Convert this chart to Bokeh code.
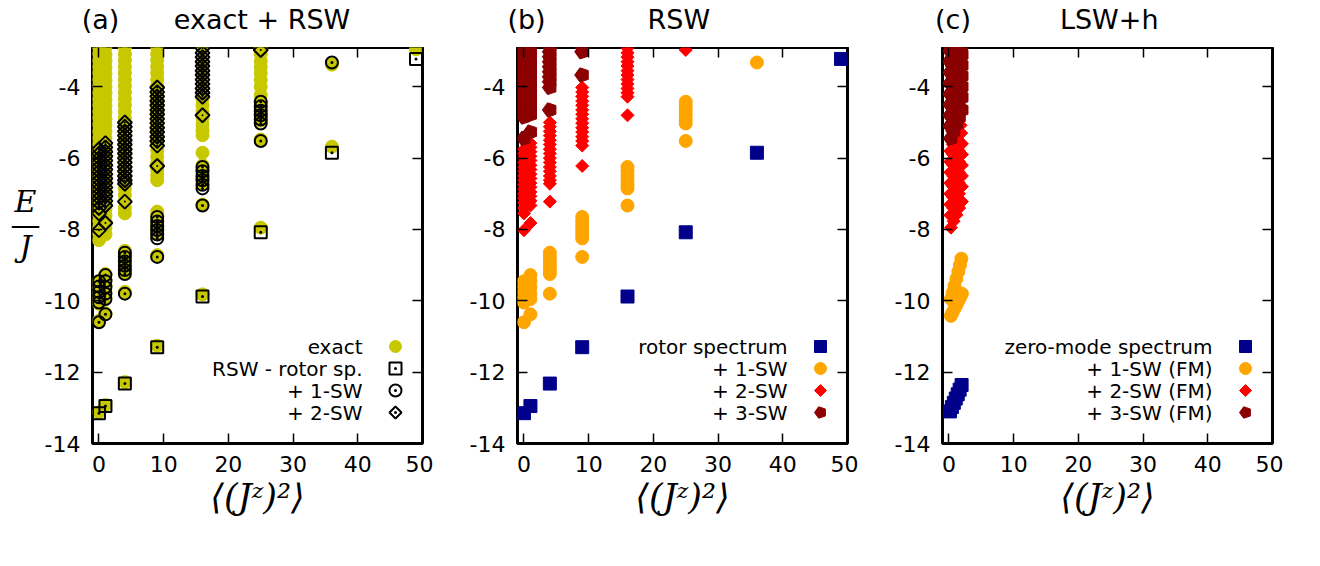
import math
from bokeh.plotting import figure
from bokeh.models import (Range1d, FixedTicker, LinearAxis, Label, Legend, LegendItem,
                          CustomJSTickFormatter)
from bokeh.layouts import row, column
from bokeh.embed import file_html
from bokeh.resources import INLINE

# ---------------- data ----------------
x_ticks = [0, 10, 20, 30, 40, 50]
y_ticks = [-14, -12, -10, -8, -6, -4]

panel_tags = ["(a)", "(b)", "(c)"]
panel_titles = ["exact + RSW", "RSW", "LSW+h"]
x_label_text = "⟨(Jᶻ)²⟩"

legend_a = ["exact", "RSW - rotor sp.", "+ 1-SW", "+ 2-SW"]
legend_b = ["rotor spectrum", "+ 1-SW", "+ 2-SW", "+ 3-SW"]
legend_c = ["zero-mode spectrum", "+ 1-SW (FM)", "+ 2-SW (FM)", "+ 3-SW (FM)"]

# rotor spectrum (RSW)
rotor_x = [0, 1, 4, 9, 16, 25, 36, 49]
rotor_y = [-13.15, -12.95, -12.32, -11.30, -9.88, -8.08, -5.85, -3.22]

# exact diagonalisation levels, grouped by <(Jz)^2>
exact_col_x = [0, 1, 4, 9, 16, 25, 36, 49]
exact_col_y = [
    [-2.90, -3.08, -3.27, -3.45, -3.62, -3.80, -3.98, -4.17, -4.35, -4.52, -4.70, -4.88, -5.06,
     -5.25, -5.43, -5.60, -5.78, -5.96, -6.14, -6.32, -6.50, -6.68, -6.86, -7.04, -7.22, -7.40,
     -7.58, -7.76, -7.94, -8.12, -8.30, -9.45, -9.62, -9.78, -9.95, -10.08, -10.56, -13.13],
    [-2.90, -3.10, -3.28, -3.46, -3.64, -3.82, -4.00, -4.18, -4.36, -4.54, -4.72, -4.90, -5.08,
     -5.26, -5.44, -5.62, -5.80, -5.98, -6.16, -6.34, -6.52, -6.70, -6.88, -7.06, -7.24, -7.42,
     -7.60, -7.78, -7.96, -8.14, -9.25, -9.42, -9.58, -9.75, -9.92, -10.35, -12.92],
    [-2.90, -3.08, -3.26, -3.44, -3.62, -3.80, -3.98, -4.16, -4.34, -4.52, -4.70, -4.88, -5.06,
     -5.24, -5.42, -5.60, -5.78, -5.96, -6.14, -6.32, -6.50, -6.68, -6.86, -7.04, -7.22, -7.40,
     -7.55, -8.60, -8.72, -8.85, -8.97, -9.10, -9.20, -9.75, -12.28],
    [-2.90, -3.08, -3.26, -3.44, -3.62, -3.80, -3.98, -4.16, -4.34, -4.52, -4.70, -4.88, -5.06,
     -5.24, -5.42, -5.60, -5.78, -5.96, -6.14, -6.32, -6.48, -6.62, -7.50, -7.62, -7.75, -7.88,
     -8.00, -8.12, -8.72, -11.26],
    [-2.90, -3.08, -3.26, -3.44, -3.62, -3.80, -3.98, -4.16, -4.34, -4.52, -4.70, -4.88, -5.06,
     -5.22, -5.36, -5.85, -6.20, -6.32, -6.45, -6.57, -6.70, -7.30, -9.82],
    [-2.92, -3.08, -3.28, -3.45, -3.62, -3.81, -4.00, -4.23, -4.45, -4.58, -4.70, -4.82, -4.95,
     -5.48, -7.95],
    [-3.38, -5.68],
    [-2.95],
]

# RSW rotor + 1 spin wave
sw1_col_x = [0, 1, 4, 9, 16, 25, 36]
sw1_col_y = [
    [-9.45, -9.60, -9.75, -9.90, -10.05, -10.60],
    [-9.28, -9.45, -9.62, -9.80, -9.95, -10.38],
    [-8.65, -8.77, -8.90, -9.02, -9.14, -9.25, -9.80],
    [-7.65, -7.78, -7.90, -8.02, -8.14, -8.25, -8.77],
    [-6.25, -6.37, -6.50, -6.62, -6.75, -6.85, -7.33],
    [-4.42, -4.55, -4.67, -4.80, -4.92, -5.03, -5.52],
    [-3.32],
]

# RSW rotor + 2 spin waves
sw2_col_x = [0, 1, 4, 9, 16, 25]
sw2_col_y = [
    [-5.75, -5.88, -6.00, -6.12, -6.25, -6.37, -6.50, -6.62, -6.75, -6.87, -7.00, -7.12, -7.25,
     -7.40, -7.55, -8.02],
    [-5.58, -5.70, -5.82, -5.95, -6.07, -6.20, -6.32, -6.45, -6.57, -6.70, -6.82, -6.95, -7.07,
     -7.20, -7.33, -7.82],
    [-5.00, -5.12, -5.25, -5.37, -5.50, -5.62, -5.75, -5.87, -6.00, -6.12, -6.25, -6.37, -6.50,
     -6.62, -6.72, -7.22],
    [-4.02, -4.15, -4.27, -4.40, -4.52, -4.65, -4.77, -4.90, -5.02, -5.15, -5.27, -5.40, -5.52,
     -5.65, -6.22],
    [-2.92, -3.05, -3.17, -3.30, -3.42, -3.55, -3.67, -3.80, -3.92, -4.05, -4.17, -4.28, -4.80],
    [-2.97],
]

# RSW rotor + 3 spin waves
sw3_col_x = [0, 1, 4, 9]
sw3_col_y = [
    [-2.88, -3.02, -3.16, -3.30, -3.44, -3.58, -3.72, -3.86, -4.00, -4.14, -4.28, -4.42, -4.56,
     -4.70, -4.85, -5.45],
    [-2.88, -3.02, -3.16, -3.30, -3.44, -3.58, -3.72, -3.86, -4.00, -4.14, -4.28, -4.42, -4.56,
     -4.70, -4.78, -5.27],
    [-2.88, -3.02, -3.16, -3.30, -3.44, -3.58, -3.72, -3.86, -4.02, -4.65],
    [-2.88, -3.02, -3.67],
]

# LSW+h : zero-mode spectrum and FM spin-wave bands
zm_x = [0.15, 0.45, 0.75, 1.05, 1.35, 1.65, 1.95]
zm_y = [-13.10, -12.98, -12.86, -12.74, -12.62, -12.49, -12.36]

fm1_x = [0.30, 0.55, 0.85, 1.15, 1.45, 1.75, 2.00,
         0.30, 0.55, 0.85, 1.15, 1.45, 1.70, 1.92]
fm1_y = [-10.42, -10.33, -10.22, -10.12, -10.01, -9.90, -9.80,
         -9.95, -9.78, -9.58, -9.38, -9.18, -9.00, -8.82]

fm2_x = [0.30, 0.72, 1.15, 1.58, 2.00,
         0.20, 0.65, 1.10, 1.55, 2.00,
         0.20, 0.65, 1.10, 1.55, 2.00,
         0.20, 0.65, 1.10, 1.55, 2.00,
         0.20, 0.65, 1.10, 1.55, 2.00,
         0.20, 0.65, 1.10, 1.55, 2.00,
         0.20, 0.62, 1.05, 1.48, 1.90,
         0.20, 0.60, 1.00, 1.40, 1.80]
fm2_y = [-7.95, -7.77, -7.59, -7.40, -7.22,
         -7.60, -7.40, -7.20, -7.00, -6.80,
         -7.30, -7.10, -6.90, -6.70, -6.50,
         -7.00, -6.80, -6.60, -6.40, -6.20,
         -6.70, -6.50, -6.30, -6.10, -5.90,
         -6.40, -6.20, -6.00, -5.80, -5.60,
         -6.10, -5.90, -5.70, -5.50, -5.30,
         -5.80, -5.62, -5.44, -5.26, -5.08]

fm3_x = [0.30, 0.72, 1.15, 1.58, 2.00,
         0.20, 0.65, 1.10, 1.55, 2.00,
         0.20, 0.65, 1.10, 1.55, 2.00,
         0.20, 0.65, 1.10, 1.55, 2.00,
         0.20, 0.65, 1.10, 1.55, 2.00,
         0.20, 0.65, 1.10, 1.55, 2.00,
         0.20, 0.62, 1.05, 1.48, 1.90,
         0.20, 0.45, 0.70, 0.95, 1.20,
         0.20, 0.40]
fm3_y = [-5.45, -5.25, -5.05, -4.85, -4.65,
         -5.10, -4.90, -4.70, -4.50, -4.30,
         -4.80, -4.60, -4.40, -4.20, -4.00,
         -4.50, -4.30, -4.10, -3.90, -3.70,
         -4.20, -4.00, -3.80, -3.60, -3.40,
         -3.90, -3.70, -3.50, -3.30, -3.10,
         -3.60, -3.42, -3.24, -3.06, -2.90,
         -3.30, -3.20, -3.10, -3.00, -2.88,
         -3.00, -2.90]

# colours
c_exact = "#c8c800"
c_navy = "#00008b"
c_orange = "#ffa500"
c_red = "#ff0000"
c_dred = "#8b0000"


def flatten(cols_x, cols_y):
    xs, ys = [], []
    for x, yl in zip(cols_x, cols_y):
        xs += [x] * len(yl)
        ys += list(yl)
    return xs, ys


exact_x, exact_y = flatten(exact_col_x, exact_col_y)
sw1_x, sw1_y = flatten(sw1_col_x, sw1_col_y)
sw2_x, sw2_y = flatten(sw2_col_x, sw2_col_y)
sw3_x, sw3_y = flatten(sw3_col_x, sw3_col_y)

# ---------------- layout constants ----------------
FONT = "DejaVu Sans"
XMIN, XMAX, YMIN, YMAX = -1, 50, -14, -2.9
FW, FH = 330, 396
TOP_H = 47          # title strip height
LEFT_W = 40         # strip holding the E/J label
BT, BB, BR = 0, 110, 11
PANEL_H = BT + FH + BB
TOTAL_W = LEFT_W + (52 + FW + BR) + 2 * (84 + FW + BR)


def style_axis(ax, labels=True):
    ax.major_tick_in = 10
    ax.major_tick_out = 0
    ax.minor_tick_in = 0
    ax.minor_tick_out = 0
    ax.major_tick_line_width = 1.5
    ax.major_tick_line_color = "black"
    ax.axis_line_color = None
    if labels:
        ax.formatter = CustomJSTickFormatter(code="return tick.toFixed(0)")
        ax.major_label_text_font = FONT
        ax.major_label_text_font_size = "22px"
        ax.major_label_text_color = "black"
        ax.major_label_standoff = 12
    else:
        ax.formatter = CustomJSTickFormatter(code="return ''")
        ax.major_label_text_font_size = "1px"
        ax.major_label_standoff = 0


def blank_strip(w, h):
    s = figure(frame_width=w, frame_height=h, x_range=Range1d(0, w), y_range=Range1d(0, h),
               output_backend="svg", toolbar_location=None,
               min_border_left=0, min_border_right=0, min_border_top=0, min_border_bottom=0,
               background_fill_color="white", border_fill_color="white")
    s.axis.visible = False
    s.grid.visible = False
    s.outline_line_color = None
    return s


def make_panel(left_border):
    p = figure(frame_width=FW, frame_height=FH,
               x_range=Range1d(XMIN, XMAX), y_range=Range1d(YMIN, YMAX),
               output_backend="svg", toolbar_location=None,
               min_border_left=left_border, min_border_right=BR, min_border_top=BT,
               min_border_bottom=BB, background_fill_color="white", border_fill_color="white")
    p.grid.visible = False
    p.outline_line_color = "black"
    p.outline_line_width = 3
    p.outline_line_alpha = 1.0
    p.xaxis.ticker = FixedTicker(ticks=x_ticks)
    p.yaxis.ticker = FixedTicker(ticks=y_ticks)
    style_axis(p.xaxis[0])
    style_axis(p.yaxis[0])
    p.xaxis.axis_label = x_label_text
    p.xaxis.axis_label_text_font = "DejaVu Serif"
    p.xaxis.axis_label_text_font_style = "italic"
    p.xaxis.axis_label_text_font_size = "35px"
    p.xaxis.axis_label_text_color = "black"
    p.xaxis.axis_label_standoff = 2
    top = LinearAxis(ticker=FixedTicker(ticks=x_ticks))
    style_axis(top, labels=False)
    p.add_layout(top, "above")
    right = LinearAxis(ticker=FixedTicker(ticks=y_ticks))
    style_axis(right, labels=False)
    p.add_layout(right, "right")
    return p


def add_legend(p, labels, rends):
    # key symbols (Bokeh legends, one per row) sitting right of right-aligned texts
    row_bottoms = [81.6, 60.0, 37.6, 16.0]        # px above frame bottom
    row_y = [-11.29, -11.90, -12.53, -13.14]      # text rows in data units
    for lab, r, yb, ty in zip(labels, rends, row_bottoms, row_y):
        rl = r if isinstance(r, list) else [r]
        lg = Legend(items=[LegendItem(label=" ", renderers=rl)], location=(288, yb),
                    orientation="vertical", padding=0, margin=0, glyph_width=30, glyph_height=30,
                    label_standoff=0, label_width=1, label_height=1,
                    label_text_font_size="1px", background_fill_alpha=0, border_line_alpha=0)
        p.add_layout(lg)
        p.add_layout(Label(x=40.73, y=ty, text=lab, text_font=FONT, text_font_size="20px",
                           text_align="right", text_baseline="middle", text_color="black"))


def pentagons(p, x, y, color):
    try:
        return p.ngon(x=x, y=y, radius=7.5, radius_units="screen", n=5, angle=math.pi / 2,
                      fill_color=color, line_color=color)
    except Exception:
        return p.scatter(x=x, y=y, marker="hex", size=13, fill_color=color, line_color=color)


def diamonds(p, x, y, fill, line, lw, radius):
    try:
        return p.ngon(x=x, y=y, radius=radius, radius_units="screen", n=4, angle=0,
                      fill_color=fill, line_color=line, line_width=lw)
    except Exception:
        return p.scatter(x=x, y=y, marker="diamond", size=2 * radius, fill_color=fill,
                         line_color=line, line_width=lw)


# ---------------- panel (a) ----------------
pa = make_panel(52)
r_ex = pa.scatter(exact_x, exact_y, marker="circle", size=13, fill_color=c_exact, line_color=c_exact)
r_ro = pa.scatter(rotor_x, rotor_y, marker="square_dot", size=12, fill_color=None,
                  line_color="black", line_width=2)
r_s1 = pa.scatter(sw1_x, sw1_y, marker="circle_dot", size=12, fill_color=None,
                  line_color="black", line_width=2)
r_s2 = diamonds(pa, sw2_x, sw2_y, None, "black", 2, 7)
r_s2d = pa.scatter(sw2_x, sw2_y, marker="dot", size=8, color="black")
add_legend(pa, legend_a, [r_ex, r_ro, r_s1, [r_s2, r_s2d]])

# ---------------- panel (b) ----------------
pb = make_panel(84)
rb0 = pb.scatter(rotor_x, rotor_y, marker="square", size=13, fill_color=c_navy, line_color=c_navy)
rb1 = pb.scatter(sw1_x, sw1_y, marker="circle", size=13, fill_color=c_orange, line_color=c_orange)
rb2 = diamonds(pb, sw2_x, sw2_y, c_red, c_red, 1, 6.5)
rb3 = pentagons(pb, sw3_x, sw3_y, c_dred)
add_legend(pb, legend_b, [rb0, rb1, rb2, rb3])

# ---------------- panel (c) ----------------
pc = make_panel(84)
rc0 = pc.scatter(zm_x, zm_y, marker="square", size=13, fill_color=c_navy, line_color=c_navy)
rc1 = pc.scatter(fm1_x, fm1_y, marker="circle", size=13, fill_color=c_orange, line_color=c_orange)
rc2 = diamonds(pc, fm2_x, fm2_y, c_red, c_red, 1, 6.5)
rc3 = pentagons(pc, fm3_x, fm3_y, c_dred)
add_legend(pc, legend_c, [rc0, rc1, rc2, rc3])

# ---------------- title strip ----------------
top_strip = blank_strip(TOTAL_W, TOP_H)
tag_px = [100, 526, 952.5]
title_px = [261.5, 678.3, 1108.7]
for i in range(3):
    top_strip.add_layout(Label(x=tag_px[i], y=TOP_H - 19, text=panel_tags[i], text_font=FONT,
                               text_font_size="27px", text_align="center",
                               text_baseline="middle", text_color="black"))
    top_strip.add_layout(Label(x=title_px[i], y=TOP_H - 19, text=panel_titles[i], text_font=FONT,
                               text_font_size="27px", text_align="center",
                               text_baseline="middle", text_color="black"))

# ---------------- E/J strip ----------------
left_strip = blank_strip(LEFT_W, PANEL_H)
for txt, py, italic in [("E", 201, True), ("—", 224, False), ("J", 246, True)]:
    left_strip.add_layout(Label(x=25, y=PANEL_H - (py - TOP_H), text=txt, text_font="DejaVu Serif",
                                text_font_style="italic" if italic else "normal",
                                text_font_size="30px", text_align="center",
                                text_baseline="middle", text_color="black"))

layout = column(top_strip, row(left_strip, pa, pb, pc))
open("out.html", "w").write(file_html(layout, INLINE))
